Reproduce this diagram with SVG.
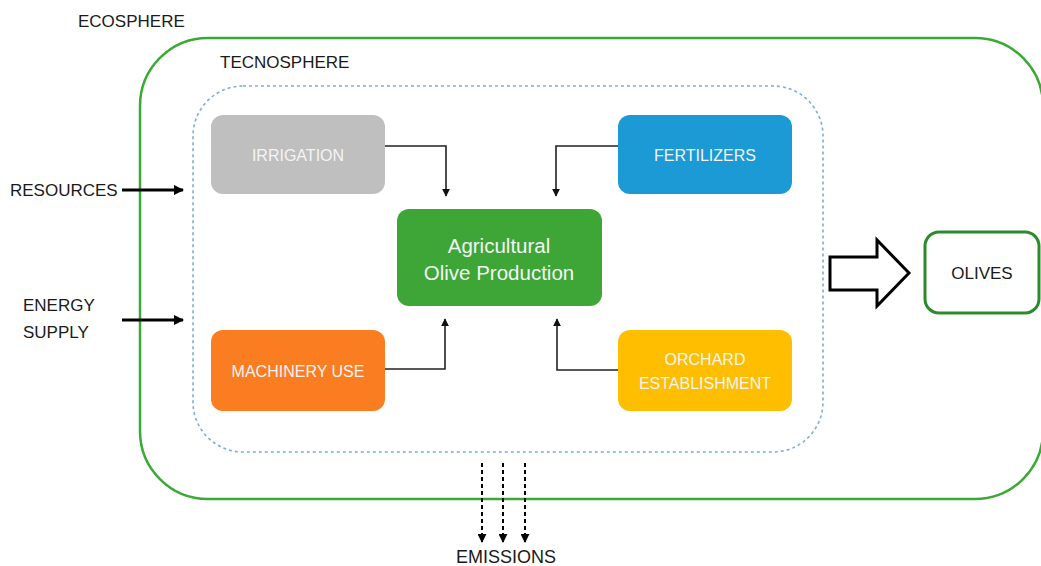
<svg xmlns="http://www.w3.org/2000/svg" width="1041" height="566" viewBox="0 0 1041 566">
<style>
text{font-family:"Liberation Sans",Arial,sans-serif;}
.lbl{font-size:17px;fill:#1a1a1a;}
.wt{font-size:16px;fill:#f4f4f4;text-anchor:middle;dominant-baseline:central;}
.box{stroke:none;}
.conn{fill:none;stroke:#222;stroke-width:1.6;}
.thick{fill:none;stroke:#000;stroke-width:3;}
.emis{fill:none;stroke:#000;stroke-width:2;stroke-dasharray:4,3;}
</style>
<defs>
<marker id="ah" viewBox="0 0 10 10" refX="9" refY="5" markerWidth="5" markerHeight="5" orient="auto" markerUnits="strokeWidth">
<path d="M0,0 L10,5 L0,10 z" fill="#111"/>
</marker>
<marker id="ahb" viewBox="0 0 10 10" refX="9" refY="5" markerWidth="3.5" markerHeight="3.5" orient="auto" markerUnits="strokeWidth">
<path d="M0,0 L10,5 L0,10 z" fill="#000"/>
</marker>
<marker id="ahe" viewBox="0 0 10 10" refX="9" refY="5" markerWidth="4.5" markerHeight="4.5" orient="auto" markerUnits="strokeWidth">
<path d="M0,0 L10,5 L0,10 z" fill="#000"/>
</marker>
</defs>
<rect width="1041" height="566" fill="#fff"/>

<g id="ecosphere">
<rect x="140" y="38" width="903" height="461" rx="68" fill="none" stroke="#3aaa35" stroke-width="2.5"/>
<text class="lbl" x="78" y="27">ECOSPHERE</text>
</g>
<g id="tecnosphere">
<rect x="193" y="86" width="630" height="366" rx="50" fill="none" stroke="#7fadd4" stroke-width="1.6" stroke-dasharray="3,3"/>
<text class="lbl" x="220" y="68">TECNOSPHERE</text>
</g>

<g id="irrigation">
<rect class="box" x="211" y="115" width="174" height="79" rx="12" fill="#bfbfbf"/>
<text class="wt" x="298" y="155">IRRIGATION</text>
</g>
<g id="fertilizers">
<rect class="box" x="618" y="115" width="174" height="79" rx="12" fill="#1b9ad6"/>
<text class="wt" x="705" y="155">FERTILIZERS</text>
</g>
<g id="agricultural">
<rect class="box" x="397" y="209" width="205" height="97" rx="12" fill="#3da637"/>
<text class="wt" x="499" y="245" style="font-size:20.5px">Agricultural</text>
<text class="wt" x="499" y="272" style="font-size:20.5px">Olive Production</text>
</g>
<g id="machinery">
<rect class="box" x="211" y="330" width="174" height="81" rx="12" fill="#fb7d21"/>
<text class="wt" x="298" y="371">MACHINERY USE</text>
</g>
<g id="orchard">
<rect class="box" x="618" y="330" width="174" height="81" rx="12" fill="#ffbf00"/>
<text class="wt" x="705" y="359">ORCHARD</text>
<text class="wt" x="705" y="383">ESTABLISHMENT</text>
</g>
<g id="olives">
<rect x="925" y="232" width="114" height="81" rx="14" fill="#fff" stroke="#2c8a2c" stroke-width="3"/>
<text class="lbl" x="982" y="273" text-anchor="middle" dominant-baseline="central">OLIVES</text>
</g>
<g id="resources">
<text class="lbl" x="10" y="196">RESOURCES</text>
</g>
<g id="energy">
<text class="lbl" x="23" y="311">ENERGY</text>
<text class="lbl" x="23" y="338">SUPPLY</text>
</g>
<g id="emissions">
<text class="lbl" x="506" y="563" text-anchor="middle" style="font-size:18px">EMISSIONS</text>
</g>

<g id="connectors">
<path class="conn" d="M385,146 H446 V196" marker-end="url(#ah)"/>
<path class="conn" d="M618,146 H556 V196" marker-end="url(#ah)"/>
<path class="conn" d="M385,369 H445 V319" marker-end="url(#ah)"/>
<path class="conn" d="M618,370 H557 V319" marker-end="url(#ah)"/>
<path class="thick" d="M122,190 H183" marker-end="url(#ahb)"/>
<path class="thick" d="M122,320 H183" marker-end="url(#ahb)"/>
<path class="emis" d="M482,463 V542" marker-end="url(#ahe)"/>
<path class="emis" d="M503,463 V542" marker-end="url(#ahe)"/>
<path class="emis" d="M525,463 V542" marker-end="url(#ahe)"/>
<path d="M830,257 H877 V240 L909,273 L877,306 V290 H830 Z" fill="#fff" stroke="#000" stroke-width="3" stroke-linejoin="miter"/>
</g>
</svg>
